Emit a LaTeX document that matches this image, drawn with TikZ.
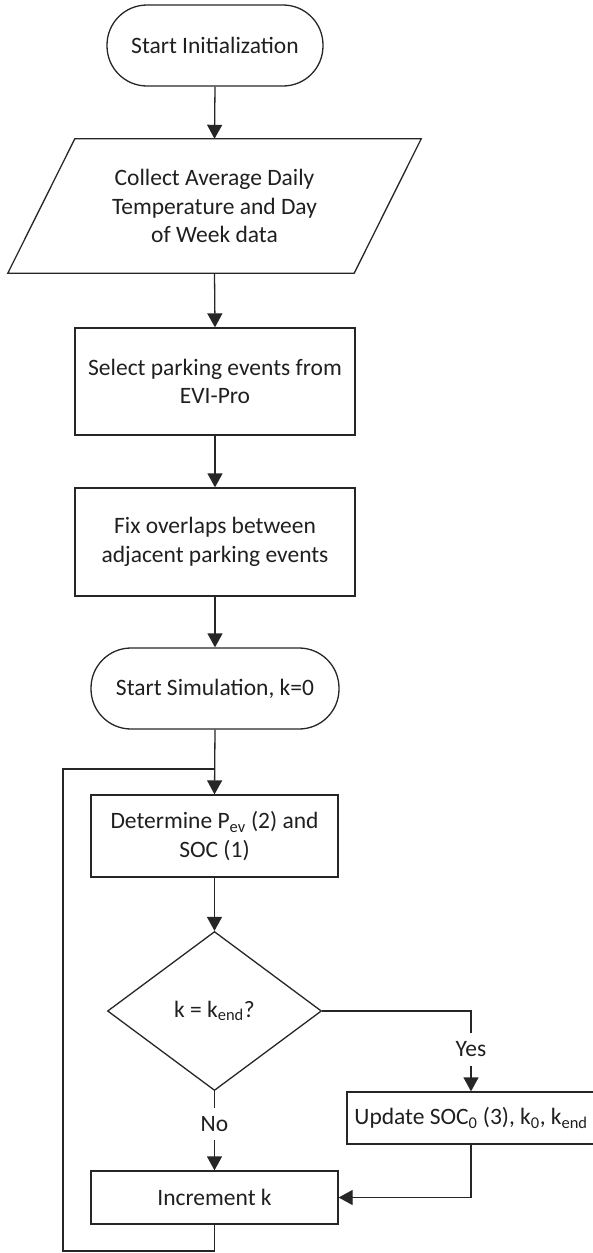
\documentclass[tikz,border=0pt]{standalone}
\usepackage{fontspec}
\setmainfont{Carlito}
\usetikzlibrary{shapes.geometric,arrows.meta}
\begin{document}
\begin{tikzpicture}[x=1pt,y=-1pt,
  every node/.style={font=\fontsize{23.5}{28.5}\selectfont, text=black!88, align=center},
  ln/.style={draw=black!85, line width=1.3pt},
  arr/.style={ln, -{Triangle[width=15pt,length=14pt]}},
  boxst/.style={ln, rectangle, inner sep=0pt},
  termst/.style={ln, rectangle, rounded corners=40pt, inner sep=0pt},
  lbl/.style={inner sep=0pt, minimum height=32pt}
]
\useasboundingbox (0,0) rectangle (592,1253);
\node[termst, minimum width=216pt, minimum height=81pt] (start) at (215,45.5) {Start Initialization};
\node[inner sep=0pt, minimum width=346pt, minimum height=134pt] (collect) at (214.5,206) {Collect Average Daily\\Temperature and Day\\of Week data};
\draw[ln] ([xshift=33.5pt]collect.north west) -- ([xshift=33.5pt]collect.north east) -- ([xshift=-33.5pt]collect.south east) -- ([xshift=-33.5pt]collect.south west) -- cycle;
\node[boxst, minimum width=280pt, minimum height=107pt] (select) at (215,381.5) {Select parking events from\\EVI-Pro};
\node[boxst, minimum width=280pt, minimum height=108pt] (fix) at (215,542) {Fix overlaps between\\adjacent parking events};
\node[termst, minimum width=248pt, minimum height=81pt] (sim) at (215,688.5) {Start Simulation, k=0};
\node[boxst, minimum width=247pt, minimum height=82pt] (det) at (214.5,836) {Determine P\textsubscript{ev} (2) and\\SOC (1)};
\node[ln, diamond, inner sep=0pt, minimum width=214pt, minimum height=159pt] (dec) at (214.5,1011) {k = k\textsubscript{end}?};
\node[boxst, minimum width=248pt, minimum height=52pt] (upd) at (471,1118) {Update SOC\textsubscript{0} (3), k\textsubscript{0}, k\textsubscript{end}};
\node[boxst, minimum width=247pt, minimum height=53pt] (inc) at (214.5,1197.5) {Increment k};
\node[lbl] (yes) at (471,1049.5) {Yes};
\node[lbl] (no) at (214.5,1124) {No};
\coordinate (j) at (214.5,769);
\coordinate (bl) at (63,1251);
\draw[arr] (start.south) -- (collect.north);
\draw[arr] (collect.south) -- (select.north);
\draw[arr] (select.south) -- (fix.north);
\draw[arr] (fix.south) -- (sim.north);
\draw[arr] (sim.south) -- (det.north);
\draw[arr] (det.south) -- (dec.north);
\draw[ln] (dec.east) -| (yes.north);
\draw[arr] (yes.south) -- (upd.north);
\draw[ln] (dec.south) -- (no.north);
\draw[arr] (no.south) -- (inc.north);
\draw[arr] (upd.south) |- (inc.east);
\draw[ln] (inc.south) |- (bl) |- (j);
\end{tikzpicture}
\end{document}
